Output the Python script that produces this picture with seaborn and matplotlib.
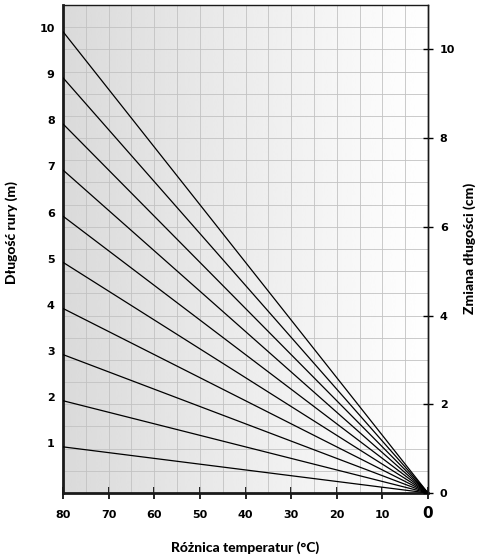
import numpy as np
import pandas as pd
import matplotlib
matplotlib.use("Agg")
import matplotlib.pyplot as plt
import seaborn as sns

# pipe lengths (m) and temperature difference range (degC)
lengths = [1, 2, 3, 4, 5, 6, 7, 8, 9, 10]
delta_t = [0, 80]
coef = 0.013  # cm per m per K
x_ticks = [80, 70, 60, 50, 40, 30, 20, 10, 0]
right_ticks = [0, 2, 4, 6, 8, 10]

rows = []
for L in lengths:
    for t in delta_t:
        rows.append({"L": L, "dT": t, "dL": coef * L * t})
df = pd.DataFrame(rows)

sns.set_style("white")
plt.rcParams["font.family"] = ["Liberation Sans Narrow", "DejaVu Sans"]
plt.rcParams["text.color"] = "black"
plt.rcParams["xtick.color"] = "black"
plt.rcParams["ytick.color"] = "black"
plt.rcParams["xtick.labelcolor"] = "black"
plt.rcParams["ytick.labelcolor"] = "black"

fig = plt.figure(figsize=(4.8, 5.57), dpi=100)
ax = fig.add_axes([63 / 480, 64 / 557, 365 / 480, 488 / 557])

# gray-to-white background gradient
grad = np.linspace(0.855, 1.0, 256).reshape(1, -1)
ax.imshow(grad, extent=[80, 0, 0, 11], aspect="auto", cmap="gray",
          vmin=0, vmax=1, zorder=0, interpolation="bicubic")

sns.lineplot(data=df, x="dT", y="dL", units="L", estimator=None,
             color="black", lw=0.9, ax=ax, zorder=3)

ax.set_xlim(80, 0)
ax.set_ylim(0, 11)

# grid every 5 degC and 0.5 cm
for v in np.arange(0, 81, 5):
    ax.axvline(v, color="#c2c2c2", lw=0.6, zorder=1)
for v in np.arange(0, 11.01, 0.5):
    ax.axhline(v, color="#c2c2c2", lw=0.6, zorder=1)

ax.set_xticks(x_ticks)
ax.set_xticklabels([str(v) for v in x_ticks[:-1]] + [""], fontweight="bold", fontsize=8)
ax.tick_params(axis="x", direction="inout", length=8, width=1.2, pad=8, bottom=True)
ax.text(0, -0.3, "0", ha="center", va="top", fontsize=11, fontweight="bold",
        family=["DejaVu Sans"])

# left: pipe lengths at line start
ax.set_yticks([coef * 80 * L + 0.08 for L in lengths])
ax.set_yticklabels([str(L) for L in lengths], fontweight="bold", fontsize=8)
ax.tick_params(axis="y", left=False, length=0, pad=6)

ax2 = ax.twinx()
ax2.set_ylim(0, 11)
ax2.set_yticks(right_ticks)
ax2.set_yticklabels([str(v) for v in right_ticks], fontweight="bold", fontsize=8)
ax2.tick_params(axis="y", direction="inout", length=7, width=1, pad=5, right=True)

for sp in ["left", "bottom"]:
    ax.spines[sp].set_linewidth(2)
    ax.spines[sp].set_color("#1a1a1a")
for sp in ["top", "right"]:
    ax.spines[sp].set_linewidth(1)
    ax.spines[sp].set_color("#1a1a1a")
for sp in ax2.spines.values():
    sp.set_visible(False)
ax2.spines["right"].set_visible(True)
ax2.spines["right"].set_linewidth(1)
ax2.spines["right"].set_color("#1a1a1a")

ax.set_xlabel("")
ax.set_ylabel("")
title_font = ["Lato", "DejaVu Sans"]
fig.text(245 / 480, 1 - 548 / 557, "Różnica temperatur (°C)", ha="center", va="center",
         fontsize=10, fontweight=900, family=title_font)
fig.text(12 / 480, 1 - 233 / 557, "Długość rury (m)", ha="center", va="center",
         rotation=90, fontsize=10, fontweight=900, family=title_font)
fig.text(470 / 480, 1 - 248 / 557, "Zmiana długości (cm)", ha="center", va="center",
         rotation=90, fontsize=10, fontweight=900, family=title_font)

fig.savefig("out.png", dpi=100)
